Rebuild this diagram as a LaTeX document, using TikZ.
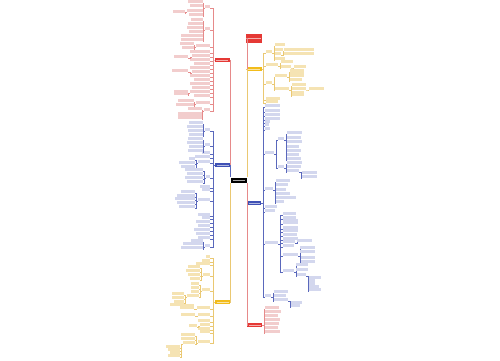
\documentclass[tikz,border=0pt]{standalone}
\usetikzlibrary{positioning}

\definecolor{rmain}{HTML}{E53935}
\definecolor{rline}{HTML}{E68A8A}
\definecolor{rtext}{HTML}{F2CDCD}
\definecolor{bmain}{HTML}{3F51B5}
\definecolor{bline}{HTML}{5A68BC}
\definecolor{btext}{HTML}{D3D7EE}
\definecolor{ymain}{HTML}{F2BC1B}
\definecolor{yline}{HTML}{EAC872}
\definecolor{ytext}{HTML}{F5E3B3}

\tikzset{
  root/.style={fill=black, minimum width=16pt, minimum height=5pt, inner sep=0pt,
    path picture={\draw[gray!70, line width=1pt] ([xshift=2pt]path picture bounding box.west) -- ([xshift=-2pt]path picture bounding box.east);}},
  main/.style={fill=#1main, minimum width=15pt, minimum height=4pt, inner sep=0pt,
    path picture={\draw[white!60!#1main, line width=0.9pt] ([xshift=1.5pt]path picture bounding box.west) -- ([xshift=-1.5pt]path picture bounding box.east);}},
  lk/.style={draw=#1line, line width=0.4pt},
  leaf/.style={fill=#1text, inner sep=0pt,
    path picture={\draw[#1line, line width=0.6pt] (path picture bounding box.south west) -- (path picture bounding box.south east);}},
}

% children to the left of a parent: prefix, from, branch, right x, {y/width/lines}
\newcommand\lkids[5]{%
  \foreach \py/\pw/\pn [count=\i] in {#5}{
    \node[leaf=#3, minimum width=\pw pt, minimum height=\pn*2.4pt, anchor=south east] (#1-\i) at (#4,\py) {};
    \draw[lk=#3] (#2) -- ++(-1.5,0) |- (#1-\i.south east);
  }}
% children to the right of a parent
\newcommand\rkids[5]{%
  \foreach \py/\pw/\pn [count=\i] in {#5}{
    \node[leaf=#3, minimum width=\pw pt, minimum height=\pn*2.4pt, anchor=south west] (#1-\i) at (#4,\py) {};
    \draw[lk=#3] (#2) -- ++(1.5,0) |- (#1-\i.south west);
  }}

\begin{document}
\begin{tikzpicture}[x=1pt, y=-1pt]
\useasboundingbox (0,0) rectangle (500,360);

% center and main branches
\node[root] (c) at (238.5,180) {};
\node[main=r] (LR) at (222,60) {};
\node[main=b] (LB) at (222.5,165) {};
\node[main=y] (LY) at (222.5,302) {};
\node[main=r, minimum width=16pt, minimum height=9pt] (RR1) at (254,38.5) {};
\node[main=y] (RY) at (254,69) {};
\node[main=b, minimum width=14pt] (RB) at (254,203) {};
\node[main=r] (RR2) at (254.5,325) {};

\draw[lk=r] (LR.east) -| (c.north west);
\draw[lk=b] (LB.east) -| (c.north west);
\draw[lk=y] (LY.east) -| (c.south west);
\draw[lk=r] (RR1.west) -| (c.north east);
\draw[lk=y] (RY.west) -| (c.north east);
\draw[lk=b] (RB.west) -| (c.south east);
\draw[lk=r] (RR2.west) -| (c.south east);

% left red
\lkids{lr}{LR.west}{r}{210}{8/5/1, 30/5/1, 47/14/1, 53/20/1, 57/18/1, 61/20/1, 65/16/1, 69/20/1, 73/18/1, 77/20/1, 81/16/1, 85/20/1, 89/18/1, 93/20/1, 97/16/1, 104/14/1, 111/6/1}
\lkids{lra}{lr-1.south west}{r}{203}{3/15/1, 7/13/1, 12/16/1, 16/14/1}
\lkids{lraa}{lra-3.south west}{r}{185}{13/12/1}
\lkids{lrb}{lr-2.south west}{r}{203}{21/12/1, 25/15/1, 29/16/1, 33/14/1, 37/22/1, 41/22/1}
\lkids{lrc}{lr-3.south west}{r}{194}{45/14/1, 49/12/1}
\lkids{lre}{lr-5.south west}{r}{188}{58/14/1}
\lkids{lri}{lr-9.south west}{r}{188}{72/16/1}
\lkids{lrn}{lr-14.south west}{r}{188}{95/14/2}
\lkids{lrp}{lr-16.south west}{r}{194}{102/16/1, 106/18/1}
\lkids{lrq}{lr-17.south west}{r}{202}{110/14/1, 119/24/3}

% left blue
\lkids{lb}{LB.west}{b}{210}{131/5/1, 146/5/1, 154/8/1, 158/15/1, 163/12/1, 178/4/1, 188/10/1, 191/8/1, 201/12/1, 216/12/1, 219/8/1, 223/14/1, 227/12/1, 231/16/1, 235/14/1, 239/12/1, 247/5/1}
\lkids{lba}{lb-1.south west}{b}{203}{124/14/1, 128/16/1, 132/15/1, 136/14/1}
\lkids{lbb}{lb-2.south west}{b}{203}{140/15/1, 144/16/1, 148/14/1, 152/15/1}
\lkids{lbe}{lb-5.south west}{b}{195}{160/6/1, 164/16/1, 168/14/1}
\lkids{lbf}{lb-6.south west}{b}{203}{171/18/1, 175/16/1, 179/18/1, 183/16/1}
\lkids{lbi}{lb-9.south west}{b}{195}{193/14/1, 197/18/1, 200/20/1, 204/18/1, 208/16/1}
\lkids{lbq}{lb-17.south west}{b}{203}{242/12/1, 245/20/1, 249/22/1}

% left yellow
\lkids{ly}{LY.west}{y}{210}{258/4/1, 262/8/1, 265/14/1, 276/7/1, 291/8/1, 309/13/1, 316/12/1, 322/12/1, 326/10/1, 330/12/1, 333/10/1, 343/12/1}
\lkids{lyd}{ly-4.south west}{y}{200}{268/12/1, 272/14/1, 276/12/1, 280/10/1}
\lkids{lye}{ly-5.south west}{y}{199}{285/8/1, 289/8/1, 293/8/1, 297/12/1}
\lkids{lyee}{lye-4.south west}{y}{184}{295/12/1, 299/12/1, 303/10/1, 306/14/1}
\lkids{lyf}{ly-6.south west}{y}{194}{309/14/2}
\lkids{lyg}{ly-7.south west}{y}{195}{316/14/1}
\lkids{lyi}{ly-9.south west}{y}{197}{327/8/1}
\lkids{lyl}{ly-12.south west}{y}{195}{336/14/1, 340/14/1, 344/12/1}
\lkids{lyll}{lyl-3.south west}{y}{180}{348/14/1, 351/12/1, 354/10/1, 357/12/1}

% right yellow
\rkids{ry}{RY.east}{y}{266}{53/6/1, 66/12/1, 84/6/1, 100/14/1, 103/12/1}
\rkids{rya}{ry-1.south east}{y}{275}{46/10/1, 51/8/1, 55/6/1, 60/10/1}
\rkids{ryaa}{rya-3.south east}{y}{284}{51/30/1, 55/30/1}
\rkids{ryb}{ry-2.south east}{y}{281}{63/12/1, 68/10/1}
\rkids{rybb}{ryb-2.south east}{y}{294}{68/12/1}
\rkids{ryc}{ry-3.south east}{y}{275}{77/12/1, 90/14/1}
\rkids{ryca}{ryc-1.south east}{y}{290}{72/14/1, 77/14/2, 81/12/1}
\rkids{rycb}{ryc-2.south east}{y}{292}{86/14/1, 90/14/1, 96/12/2}
\rkids{rycbb}{rycb-2.south east}{y}{309}{90/15/1}

% right blue
\rkids{rb}{RB.east}{b}{265}{107/15/1, 112/15/1, 116/15/1, 120/15/1, 123/5/1, 126/4/1, 130/5/1, 154/9/1, 190/8/1, 208/12/1, 212/10/1, 244/13/1, 297/6/1}
\rkids{rbh}{rb-8.south east}{b}{278}{140/6/1, 168/6/1}
\rkids{rbha}{rbh-1.south east}{b}{287}{134/15/1, 139/14/1, 143/15/1, 148/12/1, 152/14/1, 156/12/1, 160/14/1}
\rkids{rbhb}{rbh-2.south east}{b}{287}{164/15/1, 168/14/1, 172/12/1}
\rkids{rbhbc}{rbhb-3.south east}{b}{302}{174/15/1, 178/15/1}
\rkids{rbi}{rb-9.south east}{b}{276}{182/14/1, 186/12/1, 191/10/1, 195/14/1, 199/20/1, 203/8/1}
\rkids{rbl}{rb-12.south east}{b}{283}{215/13/1, 219/13/1, 224/15/2, 229/15/1, 232/15/1, 236/14/1, 240/15/1, 243/12/1, 247/11/1, 256/15/1, 272/11/1}
\rkids{rblh}{rbl-8.south east}{b}{297}{242/15/1}
\rkids{rblj}{rbl-10.south east}{b}{300}{249/15/1, 253/15/1, 259/15/1, 263/15/1}
\rkids{rblk}{rbl-11.south east}{b}{296}{266/12/1, 271/12/1, 276/10/1}
\rkids{rblkc}{rblk-3.south east}{b}{309}{279/12/1, 282/6/1, 285/6/1, 288/10/1, 291/12/1}
\rkids{rbm}{rb-13.south east}{b}{274}{293/14/1, 297/12/1, 301/14/1}
\rkids{rbmc}{rbm-3.south east}{b}{290}{304/12/1, 307/10/1}

% right red, bottom
\rkids{rr}{RR2.east}{r}{265}{309/14/1, 313/16/1, 317/13/1, 321/15/1, 325/14/1, 329/13/1, 333/15/1}

\end{tikzpicture}
\end{document}
